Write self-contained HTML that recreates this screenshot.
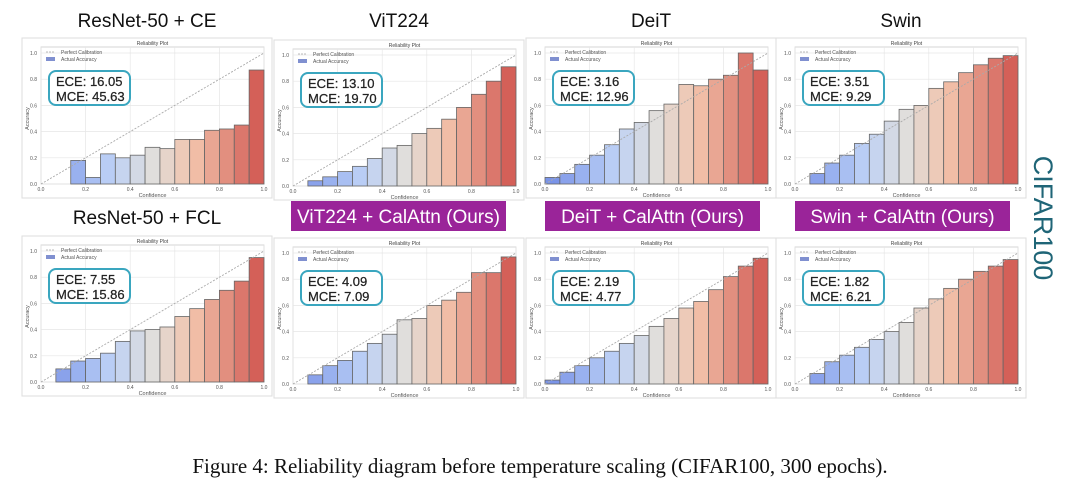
<!DOCTYPE html>
<html><head><meta charset="utf-8"><style>
html,body{margin:0;padding:0;background:#fff;width:1080px;height:494px;overflow:hidden}
</style></head><body>
<svg id="s" width="1080" height="494" xmlns="http://www.w3.org/2000/svg" font-family="Liberation Sans, sans-serif"></svg>
<script>
const S=document.getElementById('s');let h='';
function lerp(a,b,t){return a.map((v,i)=>Math.round(v+(b[i]-v)*t));}
const stops=[[0,[122,148,232]],[0.3,[188,208,246]],[0.5,[224,222,220]],[0.7,[242,194,170]],[1,[212,96,88]]];
function col(t){for(let i=0;i<stops.length-1;i++){const [a,ca]=stops[i],[b,cb]=stops[i+1];
 if(t<=b)return `rgb(${lerp(ca,cb,(t-a)/(b-a))})`;}return `rgb(${stops[4][1]})`;}
const panels=[
 [22,38,1,[0.18,0.05,0.23,0.2,0.22,0.28,0.27,0.34,0.34,0.41,0.42,0.45,0.87],2,'16.05','45.63'],
 [274,40,1,[0.04,0.07,0.11,0.15,0.21,0.29,0.31,0.4,0.44,0.51,0.6,0.7,0.8,0.91],1,'13.10','19.70'],
 [526,38,1,[0.05,0.08,0.15,0.22,0.3,0.42,0.47,0.56,0.61,0.76,0.75,0.8,0.83,1.0,0.87],0,'3.16','12.96'],
 [776,38,1,[0.08,0.16,0.22,0.31,0.38,0.48,0.57,0.6,0.73,0.78,0.85,0.91,0.96,0.98],1,'3.51','9.29'],
 [22,236,1,[0.1,0.16,0.18,0.22,0.31,0.39,0.4,0.42,0.5,0.56,0.63,0.7,0.77,0.95],1,'7.55','15.86'],
 [274,238,1,[0.07,0.14,0.18,0.25,0.31,0.38,0.49,0.5,0.6,0.64,0.7,0.85,0.85,0.97],1,'4.09','7.09'],
 [526,238,1,[0.03,0.09,0.14,0.2,0.25,0.31,0.37,0.44,0.5,0.58,0.63,0.72,0.82,0.9,0.96],0,'2.19','4.77'],
 [776,238,1,[0.08,0.17,0.22,0.28,0.34,0.4,0.47,0.58,0.65,0.73,0.8,0.86,0.9,0.95],1,'1.82','6.21']];
for(const [L,T,_,d,st,e,m] of panels){
 const x0=L+19,x1=L+242,y1=T+15,y0=T+146,W=x1-x0,H=y0-y1;
 h+=`<rect x="${L}" y="${T}" width="250" height="160" fill="#fff" stroke="#ddd"/>`;
 h+=`<rect x="${x0}" y="${T+9}" width="${W}" height="${y0-T-9}" fill="#fff" stroke="#ccc" stroke-width="0.8"/>`;
 h+=`<text x="${(x0+x1)/2}" y="${T+7}" font-size="5" text-anchor="middle" fill="#444">Reliability Plot</text>`;
 for(let i=0;i<=5;i++){const gx=x0+W*i/5,gy=y0-H*i/5;
  h+=`<line x1="${gx}" y1="${T+9}" x2="${gx}" y2="${y0}" stroke="#e6e6e6" stroke-width="0.7"/>`;
  h+=`<line x1="${x0}" y1="${gy}" x2="${x1}" y2="${gy}" stroke="#e6e6e6" stroke-width="0.7"/>`;
  h+=`<text x="${gx}" y="${y0+7}" font-size="5" text-anchor="middle" fill="#555">${(i/5).toFixed(1)}</text>`;
  h+=`<text x="${x0-4}" y="${gy+2}" font-size="5" text-anchor="end" fill="#555">${(i/5).toFixed(1)}</text>`;}
 h+=`<text x="${(x0+x1)/2}" y="${y0+13}" font-size="5.5" text-anchor="middle" fill="#555">Confidence</text>`;
 h+=`<text transform="translate(${L+7},${(y0+y1)/2}) rotate(-90)" font-size="5.5" text-anchor="middle" fill="#555">Accuracy</text>`;
 d.forEach((v,k)=>{const i=st+k,bx=x0+W*i/15,bw=W/15,bh=H*v;
  h+=`<rect x="${bx}" y="${y0-bh}" width="${bw}" height="${bh}" fill="${col(i/14)}" stroke="#666" stroke-width="0.8"/>`;});
 h+=`<line x1="${x0}" y1="${y0}" x2="${x1}" y2="${y1}" stroke="#aaa" stroke-width="0.9" stroke-dasharray="2,1.5"/>`;
 h+=`<line x1="${x0+5}" y1="${T+14}" x2="${x0+14}" y2="${T+14}" stroke="#bbb" stroke-dasharray="2,1"/>`;
 h+=`<text x="${x0+20}" y="${T+16}" font-size="5" fill="#555">Perfect Calibration</text>`;
 h+=`<rect x="${x0+5}" y="${T+19}" width="9" height="4" fill="#8090d0"/>`;
 h+=`<text x="${x0+20}" y="${T+23}" font-size="5" fill="#555">Actual Accuracy</text>`;
 h+=`<rect x="${L+27}" y="${T+33}" width="81" height="34" rx="7" fill="#fff" stroke="#3aa6bf" stroke-width="2"/>`;
 h+=`<text x="${L+34}" y="${T+48}" font-size="13" fill="#222" stroke="#222" stroke-width="0.25">ECE: ${e}</text>`;
 h+=`<text x="${L+34}" y="${T+63}" font-size="13" fill="#222" stroke="#222" stroke-width="0.25">MCE: ${m}</text>`;
}
const tt=[[147,27,'ResNet-50 + CE'],[399,27,'ViT224'],[651,27,'DeiT'],[901,27,'Swin'],[147,224,'ResNet-50 + FCL']];
for(const [x,y,t] of tt)h+=`<text x="${x}" y="${y}" font-size="19" text-anchor="middle" fill="#111">${t}</text>`;
const bn=[[291,'ViT224 + CalAttn (Ours)'],[545,'DeiT + CalAttn (Ours)'],[795,'Swin + CalAttn (Ours)']];
for(const [x,t] of bn){h+=`<rect x="${x}" y="201" width="215" height="30" fill="#9a2499"/>`;
 h+=`<text x="${x+107.5}" y="223" font-size="19" text-anchor="middle" fill="#fff">${t}</text>`;}
h+=`<text transform="translate(1034,218) rotate(90)" font-size="27" text-anchor="middle" fill="#1f6577">CIFAR100</text>`;
h+=`<text x="540" y="473" font-size="21" text-anchor="middle" fill="#111" font-family="Liberation Serif, serif">Figure 4: Reliability diagram before temperature scaling (CIFAR100, 300 epochs).</text>`;
S.innerHTML=h;
</script>
</body></html>
